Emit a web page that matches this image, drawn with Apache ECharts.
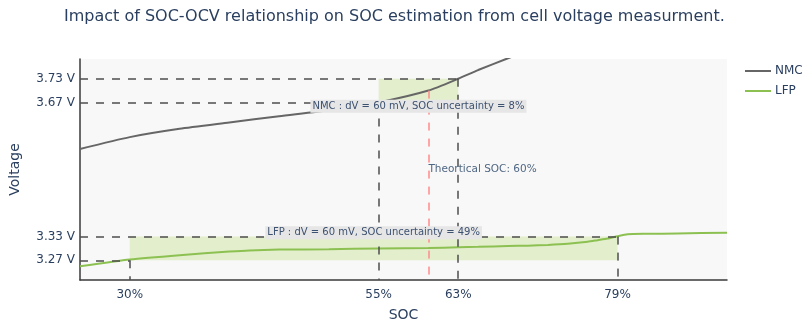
<!DOCTYPE html>
<html>
<head>
<meta charset="utf-8">
<script src="https://cdn.jsdelivr.net/npm/echarts@6/dist/echarts.min.js"></script>
<style>
  html, body { margin: 0; padding: 0; background: #ffffff; }
  #chart { width: 807px; height: 330px; }
</style>
</head>
<body>
<div id="chart"></div>
<script>
// SOC-OCV curves (SOC in %, open-circuit voltage in V)
const nmcSoc = [25, 30, 35, 40, 45, 50, 55, 60, 63, 65, 68, 70, 75, 80, 85, 90];
const nmcVoltage = [3.552, 3.582, 3.603, 3.619, 3.635, 3.650, 3.670, 3.700, 3.730, 3.752, 3.782, 3.800, 3.850, 3.900, 3.950, 4.000];

const lfpSoc = [25, 30, 35, 40, 42, 45, 50, 55, 60, 63, 65, 68, 70, 72, 74, 76, 77, 78, 79, 80, 82, 85, 90];
const lfpVoltage = [3.255, 3.272, 3.283, 3.292, 3.295, 3.297, 3.298, 3.300, 3.301, 3.303, 3.304, 3.306, 3.307, 3.309, 3.312, 3.317, 3.321, 3.325, 3.331, 3.336, 3.337, 3.338, 3.340];

// Voltage measurement windows (+/- 30 mV) and the resulting SOC ranges
const nmcSocWindow = [55, 63];
const nmcVoltWindow = [3.67, 3.73];
const lfpSocWindow = [30, 79];
const lfpVoltWindow = [3.27, 3.33];
const theoreticalSoc = 60;

// Axis tick labels
const socTicks = [30, 55, 63, 79];
const voltageTicks = [3.27, 3.33, 3.67, 3.73];

const X_MIN = 25, X_MAX = 90, Y_MIN = 3.22, Y_MAX = 3.78;
const FONT = 'DejaVu Sans, Verdana, sans-serif';
const TEXT = '#2a3f5f';
const GUIDE = { color: '#4d4d4d', width: 1.5, type: [8, 8] };

const pairs = (xs, ys) => xs.map((x, i) => [x, ys[i]]);
const nmcAtTheoretical = nmcVoltage[nmcSoc.indexOf(theoreticalSoc)];

function uncertaintyText(name, socWin, voltWin) {
  const dv = Math.round((voltWin[1] - voltWin[0]) * 1000);
  return name + ' : dV = ' + dv + ' mV, SOC uncertainty = ' + (socWin[1] - socWin[0]) + '%';
}

function guideLines(socWin, voltWin) {
  return [
    [{ coord: [X_MIN, voltWin[0]] }, { coord: [socWin[0], voltWin[0]] }],
    [{ coord: [X_MIN, voltWin[1]] }, { coord: [socWin[1], voltWin[1]] }],
    [{ coord: [socWin[0], voltWin[0]] }, { coord: [socWin[0], Y_MIN] }],
    [{ coord: [socWin[1], voltWin[1]] }, { coord: [socWin[1], Y_MIN] }]
  ];
}

const boxLabel = {
  show: true,
  position: 'inside',
  color: '#3d5170',
  fontSize: 10,
  fontFamily: FONT,
  backgroundColor: '#e6e6e6',
  padding: [2, 2, 1, 2]
};

const chart = echarts.init(document.getElementById('chart'), null, { renderer: 'canvas' });

chart.setOption({
  animation: false,
  textStyle: { fontFamily: FONT },
  title: {
    text: 'Impact of SOC-OCV relationship on SOC estimation from cell voltage measurment.',
    left: 59,
    top: 4,
    textStyle: { fontSize: 16, fontWeight: 'normal', color: TEXT, fontFamily: FONT }
  },
  legend: {
    orient: 'vertical',
    left: 740,
    top: 60,
    icon: 'rect',
    itemWidth: 26,
    itemHeight: 2,
    itemGap: 8,
    textStyle: { fontSize: 12, color: TEXT, fontFamily: FONT, padding: [0, 0, 0, -1] },
    data: ['NMC', 'LFP']
  },
  grid: {
    left: 80, right: 80, top: 59, bottom: 50,
    show: true, backgroundColor: '#f8f8f8', borderWidth: 0
  },
  xAxis: {
    type: 'value',
    min: X_MIN, max: X_MAX,
    name: 'SOC',
    nameLocation: 'middle',
    nameGap: 28,
    nameTextStyle: { fontSize: 14, color: TEXT, fontFamily: FONT },
    axisLine: { show: true, lineStyle: { color: '#3a3a3a', width: 1.5 } },
    axisTick: { show: false },
    splitLine: { show: false },
    axisLabel: {
      customValues: socTicks,
      formatter: v => v + '%',
      fontSize: 12, color: TEXT, margin: 9
    }
  },
  yAxis: {
    type: 'value',
    min: Y_MIN, max: Y_MAX,
    name: 'Voltage',
    nameLocation: 'middle',
    nameGap: 58,
    nameTextStyle: { fontSize: 14, color: TEXT, fontFamily: FONT },
    axisLine: { show: true, lineStyle: { color: '#3a3a3a', width: 1.5 } },
    axisTick: { show: false },
    splitLine: { show: false },
    axisLabel: {
      customValues: voltageTicks,
      formatter: v => v.toFixed(2) + ' V',
      fontSize: 12, color: TEXT, margin: 5
    }
  },
  series: [
    {
      name: 'NMC',
      type: 'line',
      data: pairs(nmcSoc, nmcVoltage),
      symbol: 'none',
      smooth: 0.2,
      clip: true,
      color: '#666666',
      lineStyle: { color: '#666666', width: 2 },
      z: 3,
      markArea: {
        silent: true,
        itemStyle: { color: 'rgba(154,205,50,0.22)' },
        data: [[{ coord: [nmcSocWindow[0], nmcVoltWindow[0]] }, { coord: [nmcSocWindow[1], nmcVoltWindow[1]] }]]
      },
      markLine: {
        silent: true,
        symbol: 'none',
        label: { show: false },
        lineStyle: GUIDE,
        data: guideLines(nmcSocWindow, nmcVoltWindow).concat([
          [{ coord: [theoreticalSoc, nmcAtTheoretical], lineStyle: { color: '#ff8a8a', width: 1.5, type: [8, 8] } },
           { coord: [theoreticalSoc, Y_MIN] }]
        ])
      },
      markPoint: {
        silent: true,
        symbol: 'rect',
        symbolSize: 0,
        data: [
          { coord: [(nmcSocWindow[0] + nmcSocWindow[1]) / 2, 3.66],
            label: Object.assign({}, boxLabel, { formatter: uncertaintyText('NMC', nmcSocWindow, nmcVoltWindow) }) },
          { coord: [theoreticalSoc, 3.50],
            label: { show: true, position: 'right', distance: 0, color: '#506784', fontSize: 10.5, fontFamily: FONT,
                     formatter: 'Theortical SOC: ' + theoreticalSoc + '%' } }
        ]
      }
    },
    {
      name: 'LFP',
      type: 'line',
      data: pairs(lfpSoc, lfpVoltage),
      symbol: 'none',
      smooth: 0.2,
      clip: true,
      color: '#8cc152',
      lineStyle: { color: '#8cc152', width: 2 },
      z: 3,
      markArea: {
        silent: true,
        itemStyle: { color: 'rgba(154,205,50,0.22)' },
        data: [[{ coord: [lfpSocWindow[0], lfpVoltWindow[0]] }, { coord: [lfpSocWindow[1], lfpVoltWindow[1]] }]]
      },
      markLine: {
        silent: true,
        symbol: 'none',
        label: { show: false },
        lineStyle: GUIDE,
        data: guideLines(lfpSocWindow, lfpVoltWindow)
      },
      markPoint: {
        silent: true,
        symbol: 'rect',
        symbolSize: 0,
        data: [
          { coord: [(lfpSocWindow[0] + lfpSocWindow[1]) / 2, 3.34],
            label: Object.assign({}, boxLabel, { formatter: uncertaintyText('LFP', lfpSocWindow, lfpVoltWindow) }) }
        ]
      }
    }
  ]
});
</script>
</body>
</html>
